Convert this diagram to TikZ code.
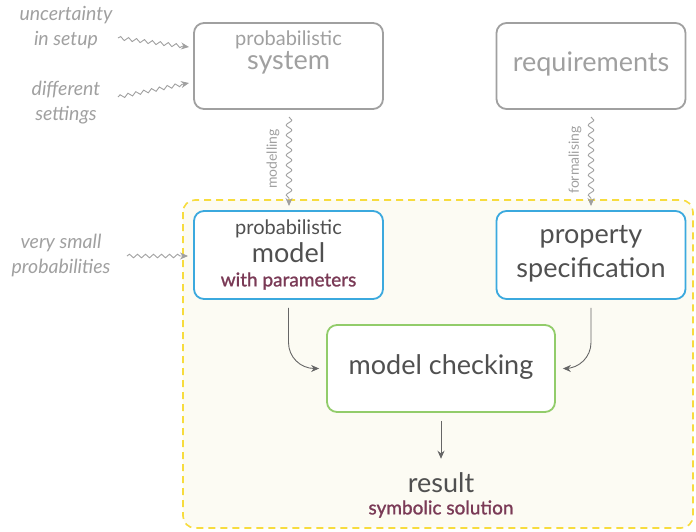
\documentclass[tikz,border=0pt]{standalone}
\usepackage{fontspec}
\setmainfont{Lato}
\newfontfamily\semib{Lato}[FakeBold=1.2]
\usetikzlibrary{decorations.pathmorphing,arrows.meta}
\definecolor{lgray}{HTML}{A0A0A0}
\definecolor{dgray}{HTML}{505050}
\definecolor{agray}{HTML}{666666}
\definecolor{purp}{HTML}{7A3A56}
\definecolor{bblue}{HTML}{3BA9DE}
\definecolor{ggreen}{HTML}{92CC6A}
\definecolor{yel}{HTML}{F7DC3E}
\definecolor{cream}{HTML}{FCFBF3}
\tikzset{
  box/.style={draw, line width=1.8pt, rounded corners=10pt, fill=white, inner sep=0pt},
  topbox/.style={box, draw=lgray, minimum width=189pt, minimum height=86pt},
  bluebox/.style={box, draw=bblue, minimum width=189pt, minimum height=88pt},
  greenbox/.style={box, draw=ggreen, minimum width=228pt, minimum height=87pt},
  txt/.style={inner sep=0pt, text=dgray},
  ltxt/.style={inner sep=0pt, text=lgray},
  big/.style={font=\fontsize{27}{30}\selectfont},
  small/.style={font=\fontsize{20}{24}\selectfont},
  side/.style={inner sep=0pt, text=lgray, font=\itshape\fontsize{19.5}{25}\selectfont, align=center},
  snk/.style={draw=lgray, line width=0.9pt, -{Stealth[length=8pt,width=7pt]}, decorate,
     decoration={snake, amplitude=1.8pt, segment length=8pt, post length=6pt}},
  vsnk/.style={snk, decoration={snake, amplitude=2.8pt, segment length=10pt, post length=6pt}},
  arr/.style={draw=agray, line width=0.9pt, -{Stealth[length=8pt,width=7pt]}},
}
\begin{document}
\begin{tikzpicture}[x=1pt,y=-1pt]
\useasboundingbox (0,0) rectangle (696,531);
% container
\draw[yel, line width=1.6pt, dash pattern=on 7pt off 5pt, fill=cream, rounded corners=12pt] (183,200) rectangle (693,528);
% top boxes
\node[topbox] (sys) at (288.5,66) {};
\node[ltxt, small] (sys1) at (288.5,40) {probabilistic};
\node[ltxt, big] (sys2) at (288.5,63) {system};
\node[topbox] (req) at (591,66) {};
\node[ltxt, big] (req1) at (591,64) {requirements};
% inner boxes
\node[bluebox] (model) at (288.5,255) {};
\node[txt, small] (m1) at (288.5,229) {probabilistic};
\node[txt, big] (m2) at (288.5,253) {model};
\node[txt, text=purp, font=\semib\fontsize{19}{24}\selectfont] (m3) at (288.5,281) {with parameters};
\node[bluebox] (prop) at (591,255) {};
\node[txt, big] (p1) at (591,237) {property};
\node[txt, big] (p2) at (591,270) {specification};
\node[greenbox] (mc) at (441,368.5) {};
\node[txt, big] (mc1) at (441,367) {model checking};
% result
\node[txt, big] (res) at (441,483) {result};
\node[txt, text=purp, font=\semib\fontsize{19}{24}\selectfont] (res2) at (441,509) {symbolic solution};
% side labels
\node[side] (u) at (66,28) {uncertainty\\in setup};
\node[side] (d) at (66,103) {different\\settings};
\node[side] (v) at (61,255) {very small\\probabilities};
\coordinate (u0) at (118,38);
\coordinate (d0) at (118,97);
\coordinate (v0) at (127,256);
\coordinate (u1) at (189,47);
\coordinate (d1) at (189,83);
\coordinate (v1) at (188,256);
\path[snk] (u0) -- (u1);
\path[snk] (d0) -- (d1);
\path[snk] (v0) -- (v1);
% vertical snakes
\coordinate (ms) at (289,117);
\coordinate (me) at (289,206);
\coordinate (fs) at (591,117);
\coordinate (fe) at (591,206);
\path[vsnk] (ms) -- (me);
\path[vsnk] (fs) -- (fe);
\node[ltxt, rotate=90, font=\fontsize{14}{16}\selectfont] (ml) at (273,159) {modelling};
\node[ltxt, rotate=90, font=\fontsize{14}{16}\selectfont] (fl) at (575,160) {formalising};
% arrows
\draw[arr, rounded corners=26pt] ([yshift=-8pt]model.south) |- ([xshift=-7pt]mc.west);
\draw[arr, rounded corners=26pt] ([yshift=-8pt]prop.south) |- ([xshift=7pt]mc.east);
\draw[arr] ([yshift=-8pt]mc.south) -- ([yshift=14pt]res.north);
\end{tikzpicture}
\end{document}
